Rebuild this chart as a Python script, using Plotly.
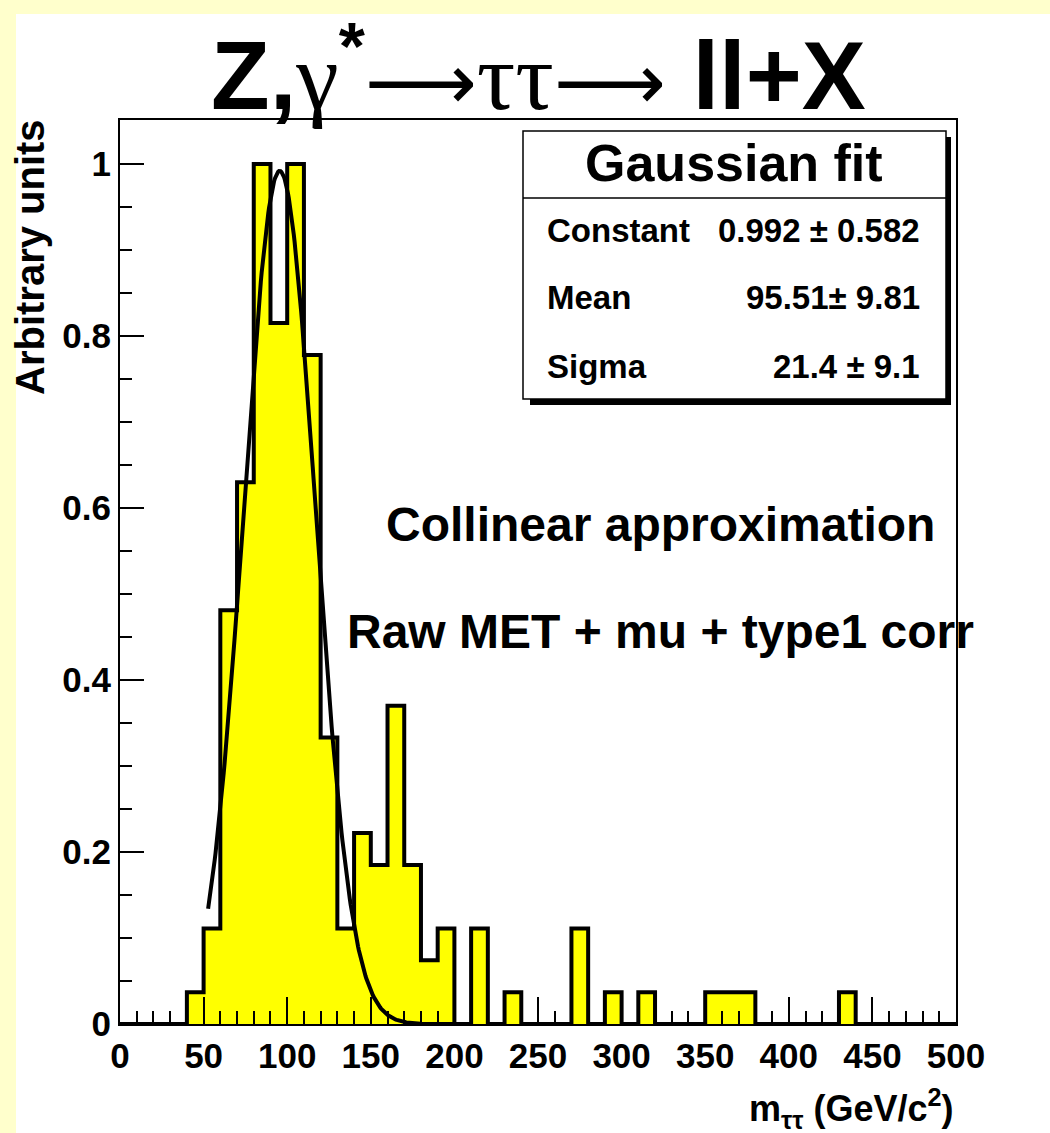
import numpy as np
import plotly.graph_objects as go

# ---------------- data ----------------
bin_low = list(range(0, 500, 10))          # lower bin edges (GeV/c^2), width 10
bin_width = 10
values = [0, 0, 0, 0, 0.037, 0.111, 0.481, 0.630, 1.0, 0.815,
          1.0, 0.778, 0.333, 0.111, 0.222, 0.185, 0.370, 0.185, 0.074, 0.111,
          0, 0.111, 0, 0.037, 0, 0, 0, 0.111, 0, 0.037,
          0, 0.037, 0, 0, 0, 0.037, 0.037, 0.037, 0, 0,
          0, 0, 0, 0.037, 0, 0, 0, 0, 0, 0]
x_ticks = [0, 50, 100, 150, 200, 250, 300, 350, 400, 450, 500]
y_ticks = [0, 0.2, 0.4, 0.6, 0.8, 1]

fit_const, fit_const_err = 0.992, 0.582
fit_mean, fit_mean_err = 95.51, 9.81
fit_sigma, fit_sigma_err = 21.4, 9.1
fit_lo, fit_hi = 52.7, 200.0

# ---------------- geometry helpers (pixel -> paper) ----------------
W, H = 1050, 1133
L, R, T, B = 120, 956, 120, 1024
def px(x):
    return (x - L) / (R - L)
def py(y):
    return (B - y) / (B - T)

FONT = "Liberation Sans, Arial, Helvetica, sans-serif"

fig = go.Figure()

# filled histogram
fig.add_trace(go.Bar(
    x=[b + bin_width / 2 for b in bin_low], y=values, width=bin_width,
    marker=dict(color="#ffff00", line=dict(width=0)), hoverinfo="skip",
))
# outline
step_x = bin_low + [bin_low[-1] + bin_width]
step_y = values + [values[-1]]
fig.add_trace(go.Scatter(
    x=step_x, y=step_y, mode="lines", line=dict(color="black", width=4, shape="hv"),
    hoverinfo="skip",
))
# gaussian fit curve (evaluated from the fitted parameters)
gx = np.linspace(fit_lo, fit_hi, 300)
gy = fit_const * np.exp(-0.5 * ((gx - fit_mean) / fit_sigma) ** 2)
fig.add_trace(go.Scatter(
    x=gx, y=gy, mode="lines", line=dict(color="black", width=4), hoverinfo="skip",
))

shapes = []
# white canvas over light-yellow background
shapes.append(dict(type="rect", xref="paper", yref="paper", layer="below",
                   x0=px(16), x1=px(1060), y0=py(1140), y1=py(14),
                   fillcolor="white", line=dict(width=0)))
# stats box shadow + box
shapes.append(dict(type="rect", xref="paper", yref="paper",
                   x0=px(530), x1=px(951), y0=py(405), y1=py(137),
                   fillcolor="black", line=dict(width=0)))
shapes.append(dict(type="rect", xref="paper", yref="paper",
                   x0=px(523), x1=px(946), y0=py(399), y1=py(131),
                   fillcolor="white", line=dict(color="black", width=1.5)))
shapes.append(dict(type="line", xref="paper", yref="paper",
                   x0=px(523), x1=px(946), y0=py(198), y1=py(198),
                   line=dict(color="black", width=1.5)))

ann = []
def text(x, y, s, size, xanchor="center", yanchor="middle", angle=0, family=FONT):
    ann.append(dict(x=px(x), y=py(y), xref="paper", yref="paper", text=s,
                    showarrow=False, xanchor=xanchor, yanchor=yanchor, textangle=angle,
                    font=dict(family=family, size=size, color="black", weight="bold")))

# title
SYM = "font-family:Liberation Serif;font-weight:normal"
ARR = "font-family:DejaVu Sans;font-weight:normal;font-size:78px"
title = (f"Z,<span style='{SYM}'>γ</span><sup>*</sup>"
         f"<span style='{ARR}'>⟶</span><span style='{SYM}'>ττ</span>"
         f"<span style='{ARR}'>⟶</span> ll+X")
text(538, 69, title, 96)

# stats box
text(734, 163, "Gaussian fit", 52)
rows = [("Constant", f"{fit_const:.3f} ± {fit_const_err:.3f}", 230),
        ("Mean", f"{fit_mean:.2f}± {fit_mean_err:.2f}", 297),
        ("Sigma", f"{fit_sigma:.1f} ± {fit_sigma_err:.1f}", 367)]
for lab, val, yy in rows:
    text(545, yy, lab, 33, xanchor="left")
    text(922, yy, val, 33, xanchor="right")

# labels in plot
text(660, 524, "Collinear approximation", 48)
text(660, 631, "Raw MET + mu + type1 corr", 48)

# axis titles
text(956, 1108, "m<sub>ττ</sub> (GeV/c<sup>2</sup>)", 36, xanchor="right")
text(30, 117, "Arbitrary units", 40, yanchor="top", angle=-90)

axis_font = dict(family=FONT, size=35, color="black", weight="bold")
fig.update_layout(
    width=W, height=H,
    margin=dict(l=L, r=W - R, t=T, b=H - B, pad=0),
    paper_bgcolor="#ffffcc", plot_bgcolor="white",
    showlegend=False, bargap=0,
    shapes=shapes, annotations=ann,
    xaxis=dict(range=[0, 500], tickvals=x_ticks, ticks="inside", ticklen=27, tickwidth=2,
               tickcolor="black", showline=True, mirror=True, linecolor="black", linewidth=2,
               showgrid=False, zeroline=False, tickfont=axis_font, ticklabelstandoff=0,
               minor=dict(dtick=10, ticks="inside", ticklen=13, tickwidth=2, tickcolor="black",
                          showgrid=False)),
    yaxis=dict(range=[0, (B - T) / (B - 164)], tickvals=y_ticks, ticks="inside", ticklen=24,
               tickwidth=2, tickcolor="black", showline=True, mirror=True, linecolor="black",
               linewidth=2, showgrid=False, zeroline=False, tickfont=axis_font,
               ticklabelstandoff=0,
               minor=dict(dtick=0.05, ticks="inside", ticklen=12, tickwidth=2, tickcolor="black",
                          showgrid=False)),
)

fig.write_html("out.html", config={"displayModeBar": False},
               post_script="document.body.style.margin='0';document.body.style.overflow='hidden';")
